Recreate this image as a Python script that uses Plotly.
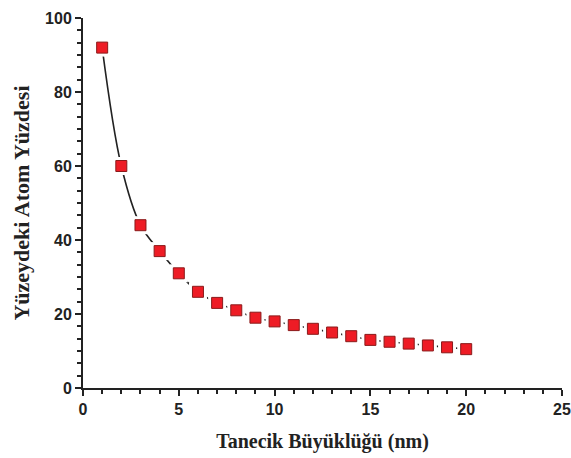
import plotly.graph_objects as go

sizes_nm = [1, 2, 3, 4, 5, 6, 7, 8, 9, 10, 11, 12, 13, 14, 15, 16, 17, 18, 19, 20]
surface_pct = [92, 60, 44, 37, 31, 26, 23, 21, 19, 18, 17, 16, 15, 14, 13, 12.5, 12, 11.5, 11, 10.5]

x_tick_vals = [0, 5, 10, 15, 20, 25]
y_tick_vals = [0, 20, 40, 60, 80, 100]

fig = go.Figure()
# connecting curve
fig.add_trace(go.Scatter(x=sizes_nm, y=surface_pct, mode="lines",
                         line=dict(color="#222222", width=1.6, shape="spline", smoothing=1.0),
                         hoverinfo="skip", showlegend=False))
# white gap around symbols
fig.add_trace(go.Scatter(x=sizes_nm, y=surface_pct, mode="markers",
                         marker=dict(symbol="square", size=18, color="white", line=dict(width=0)),
                         hoverinfo="skip", showlegend=False))
# red square symbols
fig.add_trace(go.Scatter(x=sizes_nm, y=surface_pct, mode="markers",
                         marker=dict(symbol="square", size=11, color="#ee1c25",
                                     line=dict(color="#8a1a1a", width=1)),
                         showlegend=False))

axis_font = dict(family="Liberation Sans, Arial, sans-serif", size=16, color="#222222", weight="bold")
xtitle_font = dict(family="Liberation Serif, Times New Roman, serif", size=20, color="#222222", weight="bold")
ytitle_font = dict(family="Liberation Serif, Times New Roman, serif", size=22, color="#222222", weight="bold")

fig.update_xaxes(range=[0, 25], tickvals=x_tick_vals, ticks="outside", ticklen=6, tickwidth=2,
                 tickcolor="#222222", showline=True, linecolor="#222222", linewidth=2,
                 showgrid=False, zeroline=False, tickfont=axis_font, automargin=False,
                 minor=dict(dtick=1, ticks="outside", ticklen=4, tickwidth=1.5, tickcolor="#222222", showgrid=False),
                 title=dict(text="Tanecik Büyüklüğü (nm)", font=xtitle_font, standoff=17))
fig.update_yaxes(range=[0, 100], tickvals=y_tick_vals, ticks="outside", ticklen=6, tickwidth=2,
                 tickcolor="#222222", showline=True, linecolor="#222222", linewidth=2,
                 showgrid=False, zeroline=False, tickfont=axis_font, automargin=False,
                 minor=dict(tick0=0, dtick=20/6, ticks="outside", ticklen=4, tickwidth=1.5, tickcolor="#222222", showgrid=False),
                 title=dict(text="Yüzeydeki Atom Yüzdesi", font=ytitle_font, standoff=9))

fig.update_layout(width=571, height=458, margin=dict(l=83, r=9, t=18, b=70),
                  plot_bgcolor="white", paper_bgcolor="white")

fig.write_html("out.html", config={"displayModeBar": False},
               post_script="document.body.style.margin='0';document.body.style.overflow='hidden';")
